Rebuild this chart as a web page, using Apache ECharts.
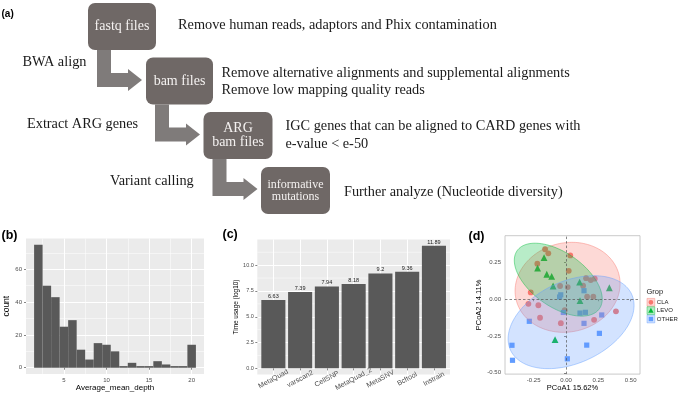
<!DOCTYPE html>
<html>
<head>
<meta charset="utf-8">
<script src="https://cdn.jsdelivr.net/npm/echarts@6/dist/echarts.min.js"></script>
<style>
html,body{margin:0;padding:0;background:#ffffff;}
#chart{width:681px;height:393px;}
</style>
</head>
<body>
<div id="chart"></div>
<script>
// ---------- Panel (b): histogram of Average_mean_depth ----------
const depthBinCenters = [2,3,4,5,6,7,8,9,10,11,12,13,14,15,16,17,18,19,20];
const depthCounts     = [75,50,43,25,29,11,5,15,14,10,1,3,1,1,4,2,1,1,14];
const depthTicksX = [5,10,15,20];
const depthTicksY = [0,20,40,60];

// ---------- Panel (c): time usage ----------
const tools     = ['MetaQuad','varscan2','CellSNP','MetaQuad_2','MetaSNV','Bcftool','Instrain'];
const timeUsage = [6.63,7.39,7.94,8.18,9.2,9.36,11.89];
const timeTicks = [0,2.5,5,7.5,10];
const timeMinorBreaks = [1.25,3.75,6.25,8.75,11.25];

// ---------- Panel (d): PCoA ----------
const groups = ['CLA','LEVO','OTHER'];
const claX = [-0.162,-0.137,-0.222,0.033,0.021,-0.273,-0.046,0.013,0.155,0.132,0.191,0.222,0.163,0.211,-0.291,-0.214,-0.201,-0.010,-0.040,0.217,0.386];
const claY = [0.340,0.312,0.242,0.298,0.193,0.046,0.090,0.083,0.143,0.092,0.130,0.140,0.017,0.017,-0.031,-0.041,-0.126,-0.075,-0.163,-0.140,-0.082];
const levoX = [-0.170,-0.220,-0.149,-0.111,-0.100,0.105,0.335,0.108,-0.085];
const levoY = [0.283,0.211,0.170,0.155,0.090,0.117,0.078,-0.010,-0.275];
const otherX = [-0.041,-0.050,0.139,-0.021,0.108,0.150,0.139,0.276,-0.284,0.258,0.160,-0.418,-0.414,0.010];
const otherY = [0.030,0.015,0.058,-0.090,-0.094,-0.089,-0.164,-0.107,-0.150,-0.232,-0.312,-0.313,-0.415,-0.405];
// 95% ellipses: centre, half-extent in x and y, correlation
const ellipseCx  = [0.012,-0.060,0.039];
const ellipseCy  = [0.081,0.133,-0.156];
const ellipseSx  = [0.406,0.340,0.487];
const ellipseSy  = [0.306,0.248,0.316];
const ellipseRho = [0.08,-0.53,0.36];
const pcoaTicksX = [-0.25,0,0.25,0.5];
const pcoaTicksY = [-0.5,-0.25,0,0.25];

// ---------- styling ----------
const SANS = '"Liberation Sans", Arial, sans-serif';
const SERIF = '"Liberation Serif", "Times New Roman", serif';
const groupColors = ['#F8766D','#00BA38','#619CFF'];
const groupRGB = ['248,118,109','0,186,56','97,156,255'];
const BAR = '#595959';
const BOX = '#6f6866';
const ARROW = '#7f7b7a';
const TXT = '#1a1a1a';

const zip = (a, b) => a.map((v, i) => [v, b[i]]);

function tickAxis(o) {
  return Object.assign({
    type: 'value',
    axisLine: {show: false},
    axisTick: {show: true, length: 2, lineStyle: {color: '#333333', width: 0.6}},
    axisLabel: {fontSize: 6, color: '#4D4D4D', fontFamily: SANS, margin: 3},
    splitLine: {show: false},
    nameTextStyle: {fontFamily: SANS, color: '#000'}
  }, o);
}

const chart = echarts.init(document.getElementById('chart'), null, {renderer: 'canvas'});

// flowchart graphics (panel a)
const boxes = [
  {x: 88, y: 3, w: 68, h: 47, lines: ['fastq files'], fs: 14},
  {x: 146, y: 57.5, w: 67, h: 47, lines: ['bam files'], fs: 14},
  {x: 203.5, y: 112, w: 69, h: 47, lines: ['ARG', 'bam files'], fs: 14},
  {x: 261, y: 167, w: 69, h: 47, lines: ['informative', 'mutations'], fs: 12}
];
const g = [];
boxes.forEach((b, i) => {
  g.push({type: 'rect', shape: {x: b.x, y: b.y, width: b.w, height: b.h, r: 7}, style: {fill: BOX}, z: 10});
  const lh = b.fs === 14 ? 14 : 11.7;
  const cy = b.y + b.h / 2;
  b.lines.forEach((t, j) => {
    const yy = cy + (j - (b.lines.length - 1) / 2) * lh;
    g.push({type: 'text', x: b.x + b.w / 2, y: yy, z: 11,
      style: {text: t, fill: '#f4f1f0', fontSize: b.fs, fontFamily: SERIF, align: 'center', verticalAlign: 'middle'}});
  });
  if (i < boxes.length - 1) {
    const L = b.x, B = b.y + b.h;
    g.push({type: 'polygon', z: 9, shape: {points: [
      [L + 9, B], [L + 23, B], [L + 23, B + 23], [L + 40, B + 23], [L + 40, B + 19],
      [L + 54, B + 30], [L + 40, B + 41], [L + 40, B + 37], [L + 9, B + 37]
    ]}, style: {fill: ARROW}});
  }
});
const notes = [
  {t: 'Remove human reads, adaptors and Phix contamination', x: 178, y: 25},
  {t: 'BWA align', x: 22.5, y: 62.5},
  {t: 'Remove alternative alignments and supplemental alignments', x: 221.5, y: 73.3},
  {t: 'Remove low mapping quality reads', x: 221.5, y: 90.7},
  {t: 'Extract ARG genes', x: 27, y: 124.3},
  {t: 'IGC genes that can be aligned to CARD genes with', x: 285.5, y: 126.7},
  {t: 'e-value < e-50', x: 285.5, y: 144.3},
  {t: 'Variant calling', x: 110, y: 181.7},
  {t: 'Further analyze (Nucleotide diversity)', x: 344, y: 192.3}
];
notes.forEach(n => g.push({type: 'text', x: n.x, y: n.y, z: 11,
  style: {text: n.t, fill: TXT, fontSize: 14.3, fontFamily: SERIF, align: 'left', verticalAlign: 'middle'}}));
// panel letters
[['(a)', 1.5, 14, 10], ['(b)', 1.5, 236, 12.5], ['(c)', 222.5, 235, 12.5], ['(d)', 468.5, 236.5, 12.5]].forEach(p =>
  g.push({type: 'text', x: p[1], y: p[2], z: 11, style: {text: p[0], fill: '#000', fontSize: p[3], fontWeight: 'bold', fontFamily: SANS, align: 'left', verticalAlign: 'middle'}}));
// legend for (d)
g.push({type: 'text', x: 646.5, y: 291.5, z: 11, style: {text: 'Grop', fill: TXT, fontSize: 7.5, fontFamily: SANS, align: 'left', verticalAlign: 'middle'}});
groups.forEach((gr, i) => {
  const cy = 302.3 + i * 8.35;
  g.push({type: 'rect', z: 11, shape: {x: 647, y: cy - 3.9, width: 7.8, height: 7.8}, style: {fill: 'rgba(' + groupRGB[i] + ',0.3)', stroke: 'rgba(' + groupRGB[i] + ',0.8)', lineWidth: 0.5}});
  if (i === 0) g.push({type: 'circle', z: 12, shape: {cx: 650.9, cy: cy, r: 2.4}, style: {fill: groupColors[i]}});
  if (i === 1) g.push({type: 'polygon', z: 12, shape: {points: [[650.9, cy - 2.8], [653.6, cy + 2], [648.2, cy + 2]]}, style: {fill: groupColors[i]}});
  if (i === 2) g.push({type: 'rect', z: 12, shape: {x: 648.7, y: cy - 2.2, width: 4.4, height: 4.4}, style: {fill: groupColors[i]}});
  g.push({type: 'text', x: 656.8, y: cy, z: 11, style: {text: gr, fill: TXT, fontSize: 6, fontFamily: SANS, align: 'left', verticalAlign: 'middle'}});
});

const option = {
  animation: false,
  backgroundColor: '#ffffff',
  graphic: {elements: g},
  grid: [
    {left: 26, top: 238.5, width: 178, height: 135.4, show: true, backgroundColor: '#EBEBEB', borderWidth: 0, containLabel: false},
    {left: 257.3, top: 239.5, width: 192.7, height: 135.7, show: true, backgroundColor: '#EBEBEB', borderWidth: 0, containLabel: false},
    {left: 505, top: 235.7, width: 135, height: 139.3, show: true, backgroundColor: '#ffffff', borderColor: '#BDBDBD', borderWidth: 0.8, containLabel: false}
  ],
  xAxis: [
    tickAxis({gridIndex: 0, min: 0.55, max: 21.45,
      axisTick: {show: true, length: 2, lineStyle: {color: '#333', width: 0.6}, customValues: depthTicksX},
      axisLabel: {customValues: depthTicksX, fontSize: 6, color: '#4D4D4D', fontFamily: SANS, margin: 3},
      splitLine: {show: true, lineStyle: {color: '#ffffff', width: 1}},
      minorTick: {show: false, splitNumber: 2},
      minorSplitLine: {show: true, lineStyle: {color: '#ffffff', width: 0.5}},
      name: 'Average_mean_depth', nameLocation: 'middle', nameGap: 8,
      nameTextStyle: {fontFamily: SANS, color: '#000', fontSize: 8}}),
    tickAxis({gridIndex: 1, min: 0.4, max: 7.6,
      axisTick: {show: true, length: 2, lineStyle: {color: '#333', width: 0.6}, customValues: [1,2,3,4,5,6,7]},
      axisLabel: {customValues: [1,2,3,4,5,6,7], formatter: v => tools[Math.round(v) - 1], rotate: 28,
        align: 'center', verticalAlign: 'middle', fontSize: 7, color: '#4D4D4D', fontFamily: SANS, margin: 4.5},
      splitLine: {show: true, lineStyle: {color: '#ffffff', width: 1}}}),
    tickAxis({gridIndex: 2, min: -0.472, max: 0.572,
      axisTick: {show: true, length: 2, lineStyle: {color: '#333', width: 0.6}, customValues: pcoaTicksX},
      axisLabel: {customValues: pcoaTicksX, formatter: v => v.toFixed(2), fontSize: 6, color: '#4D4D4D', fontFamily: SANS, margin: 3},
      name: 'PCoA1 15.62%', nameLocation: 'middle', nameGap: 6.5,
      nameTextStyle: {fontFamily: SANS, color: '#000', fontSize: 7.5}})
  ],
  yAxis: [
    tickAxis({gridIndex: 0, min: -3.75, max: 78.75,
      axisTick: {show: true, length: 2, lineStyle: {color: '#333', width: 0.6}, customValues: depthTicksY},
      axisLabel: {customValues: depthTicksY, fontSize: 6, color: '#4D4D4D', fontFamily: SANS, margin: 4},
      splitLine: {show: true, lineStyle: {color: '#ffffff', width: 1}},
      minorTick: {show: false, splitNumber: 2},
      minorSplitLine: {show: true, lineStyle: {color: '#ffffff', width: 0.5}},
      name: 'count', nameLocation: 'middle', nameRotate: 90, nameGap: 11,
      nameTextStyle: {fontFamily: SANS, color: '#000', fontSize: 8.5}}),
    tickAxis({gridIndex: 1, min: -0.5945, max: 12.4845,
      axisTick: {show: true, length: 2, lineStyle: {color: '#333', width: 0.6}, customValues: timeTicks},
      axisLabel: {customValues: timeTicks, formatter: v => v.toFixed(1), fontSize: 5.5, color: '#4D4D4D', fontFamily: SANS, margin: 3.5},
      splitLine: {show: true, lineStyle: {color: '#ffffff', width: 1}},
      name: 'Time usage (log10)', nameLocation: 'middle', nameRotate: 90, nameGap: 18,
      nameTextStyle: {fontFamily: SANS, color: '#000', fontSize: 6.4}}),
    tickAxis({gridIndex: 2, min: -0.509, max: 0.432,
      axisTick: {show: true, length: 2, lineStyle: {color: '#333', width: 0.6}, customValues: pcoaTicksY},
      axisLabel: {customValues: pcoaTicksY, formatter: v => v.toFixed(2), fontSize: 6, color: '#4D4D4D', fontFamily: SANS, margin: 4},
      name: 'PCoA2 14.11%', nameLocation: 'middle', nameRotate: 90, nameGap: 17.5,
      nameTextStyle: {fontFamily: SANS, color: '#000', fontSize: 7.5}})
  ],
  series: [
    {
      type: 'custom', name: 'count', xAxisIndex: 0, yAxisIndex: 0, z: 2,
      data: zip(depthBinCenters, depthCounts), encode: {x: 0, y: 1},
      renderItem: (params, api) => {
        const x = api.value(0), y = api.value(1);
        const p0 = api.coord([x - 0.5, y]);
        const p1 = api.coord([x + 0.5, 0]);
        return {type: 'rect', shape: {x: p0[0], y: p0[1], width: p1[0] - p0[0], height: p1[1] - p0[1]}, style: {fill: BAR}};
      }
    },
    {
      type: 'custom', name: 'minor grid', xAxisIndex: 1, yAxisIndex: 1, z: 1, silent: true,
      data: timeMinorBreaks.map(v => [1, v]), encode: {x: 0, y: 1},
      renderItem: (params, api) => {
        const v = api.value(1);
        const a = api.coord([0.4, v]), b = api.coord([7.6, v]);
        return {type: 'line', shape: {x1: a[0], y1: a[1], x2: b[0], y2: b[1]}, style: {stroke: '#ffffff', lineWidth: 0.5}};
      }
    },
    {
      type: 'custom', name: 'Time usage', xAxisIndex: 1, yAxisIndex: 1, z: 2,
      data: timeUsage.map((v, i) => [i + 1, v]), encode: {x: 0, y: 1},
      renderItem: (params, api) => {
        const x = api.value(0), y = api.value(1);
        const p0 = api.coord([x - 0.45, y]);
        const p1 = api.coord([x + 0.45, 0]);
        const top = api.coord([x, y]);
        return {type: 'group', children: [
          {type: 'rect', shape: {x: p0[0], y: p0[1], width: p1[0] - p0[0], height: p1[1] - p0[1]}, style: {fill: BAR}},
          {type: 'text', x: top[0], y: top[1] - 0.6, style: {text: String(timeUsage[params.dataIndex]), fill: TXT, fontSize: 5.5, fontFamily: SANS, align: 'center', verticalAlign: 'bottom'}}
        ]};
      }
    },
    {
      type: 'scatter', name: 'CLA', xAxisIndex: 2, yAxisIndex: 2, z: 2,
      data: zip(claX, claY), symbol: 'circle', symbolSize: 5.8,
      itemStyle: {color: groupColors[0], opacity: 1},
      markLine: {silent: true, symbol: ['none', 'none'], label: {show: false}, z: 6,
        lineStyle: {type: [2.5, 2], color: '#555555', width: 0.7},
        data: [{xAxis: 0}, {yAxis: 0}]}
    },
    {
      type: 'scatter', name: 'LEVO', xAxisIndex: 2, yAxisIndex: 2, z: 2,
      data: zip(levoX, levoY), symbol: 'triangle', symbolSize: 6.8,
      itemStyle: {color: groupColors[1], opacity: 1}
    },
    {
      type: 'scatter', name: 'OTHER', xAxisIndex: 2, yAxisIndex: 2, z: 2,
      data: zip(otherX, otherY), symbol: 'rect', symbolSize: 5.2,
      itemStyle: {color: groupColors[2], opacity: 1}
    },
    {
      type: 'custom', name: 'ellipses', xAxisIndex: 2, yAxisIndex: 2, z: 3, silent: true,
      data: groups.map((gname, i) => [ellipseCx[i], ellipseCy[i], ellipseSx[i], ellipseSy[i], ellipseRho[i]]),
      encode: {x: 0, y: 1},
      renderItem: (params, api) => {
        const cx = api.value(0), cy = api.value(1), sx = api.value(2), sy = api.value(3), rho = api.value(4);
        const k = Math.sqrt(1 - rho * rho);
        const pts = [];
        for (let i = 0; i < 160; i++) {
          const t = i / 160 * Math.PI * 2;
          pts.push(api.coord([cx + sx * Math.cos(t), cy + sy * (rho * Math.cos(t) + k * Math.sin(t))]));
        }
        const rgb = groupRGB[params.dataIndex];
        return {type: 'polygon', shape: {points: pts},
          style: {fill: 'rgba(' + rgb + ',0.28)', stroke: 'rgba(' + rgb + ',0.75)', lineWidth: 0.6}};
      }
    }
  ]
};
chart.setOption(option);
</script>
</body>
</html>
